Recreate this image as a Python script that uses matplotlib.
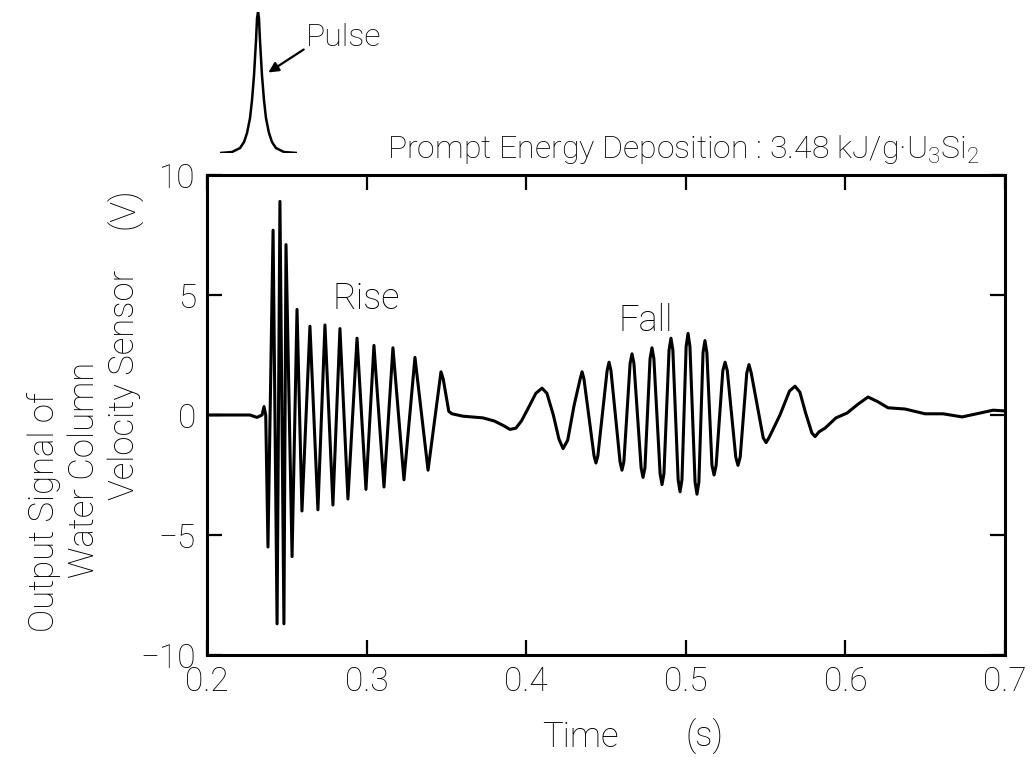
import matplotlib
matplotlib.use("Agg")
import matplotlib.pyplot as plt
from matplotlib.patches import FancyArrowPatch

# ---------------- data ----------------
time_s = [
    0.2000, 0.2269, 0.2313, 0.2345, 0.2357, 0.2368, 0.2382, 0.2414, 0.2439, 0.2457,
    0.2482, 0.2495, 0.2533, 0.2564, 0.2595, 0.2645, 0.2695, 0.2739, 0.2789, 0.2833,
    0.2883, 0.2940, 0.2996, 0.3046, 0.3109, 0.3165, 0.3234, 0.3303, 0.3385, 0.3466,
    0.3480, 0.3515, 0.3535,
    0.3604, 0.3729, 0.3800, 0.3860, 0.3898, 0.3935, 0.3970, 0.4010, 0.4060, 0.4099,
    0.4130, 0.4170, 0.4205, 0.4231, 0.4260, 0.4300, 0.4338, 0.4350, 0.4362,
    0.4425, 0.4437, 0.4449, 0.4507, 0.4519, 0.4531, 0.4588, 0.4600, 0.4612,
    0.4651, 0.4663, 0.4675, 0.4720, 0.4732, 0.4744, 0.4776, 0.4788, 0.4800,
    0.4839, 0.4851, 0.4863, 0.4895, 0.4907, 0.4919, 0.4952, 0.4964, 0.4976,
    0.5002, 0.5014, 0.5026, 0.5058, 0.5070, 0.5082, 0.5108, 0.5120, 0.5132,
    0.5164, 0.5177, 0.5190, 0.5232, 0.5246, 0.5260, 0.5313, 0.5327, 0.5341,
    0.5382, 0.5396, 0.5410, 0.5485, 0.5503, 0.5521, 0.5590, 0.5650, 0.5684,
    0.5715, 0.5750, 0.5790, 0.5810, 0.5835, 0.5872, 0.5941, 0.6010, 0.6079,
    0.6142, 0.6204, 0.6267, 0.6373, 0.6499, 0.6612, 0.6731, 0.6843, 0.6925,
    0.7000]
signal_v = [
    0.00, 0.00, -0.10, 0.00, 0.35, 0.00, -5.5, 7.7, -8.7, 8.9,
    -8.7, 7.1, -5.9, 4.4, -4.0, 3.7, -3.95, 3.75, -3.75, 3.6,
    -3.5, 3.2, -3.1, 2.9, -3.0, 2.8, -2.7, 2.4, -2.3, 1.8,
    1.5, 0.15, 0.05,
    -0.05, -0.12, -0.25, -0.45, -0.6, -0.55, -0.25, 0.25, 0.9, 1.12,
    0.9, 0.0, -1.0, -1.4, -1.05, 0.4, 1.5, 1.8, 1.5,
    -1.7, -2.0, -1.7, 1.85, 2.2, 1.85, -1.95, -2.3, -1.95,
    2.15, 2.55, 2.15, -2.2, -2.6, -2.2, 2.35, 2.8, 2.35,
    -2.45, -2.9, -2.45, 2.7, 3.2, 2.7, -2.7, -3.2, -2.7,
    2.85, 3.4, 2.85, -2.8, -3.3, -2.8, 2.6, 3.1, 2.6,
    -2.1, -2.5, -2.1, 1.85, 2.2, 1.85, -1.75, -2.1, -1.75,
    1.75, 2.1, 1.75, -0.95, -1.15, -0.95, 0.0, 1.0, 1.2,
    0.95, 0.1, -0.75, -0.9, -0.7, -0.55, -0.12, 0.08, 0.45,
    0.75, 0.55, 0.3, 0.25, 0.05, 0.05, -0.08, 0.08, 0.2,
    0.17]

# pulse sketch (relative units)
pulse_t = [0.000, 0.156, 0.260, 0.312, 0.351, 0.390, 0.416, 0.442, 0.468, 0.481,
           0.494, 0.506, 0.519, 0.545, 0.571, 0.597, 0.636, 0.675, 0.727, 0.831, 1.000]
pulse_v = [0.000, 0.007, 0.035, 0.078, 0.142, 0.248, 0.376, 0.553, 0.801, 0.957,
           1.000, 0.957, 0.801, 0.553, 0.376, 0.248, 0.142, 0.078, 0.035, 0.007, 0.000]

x_ticks = [0.2, 0.3, 0.4, 0.5, 0.6, 0.7]
x_ticklabels = ["0.2", "0.3", "0.4", "0.5", "0.6", "0.7"]
y_ticks = [-10, -5, 0, 5, 10]
y_ticklabels = ["\u221210", "\u22125", "0", "5", "10"]

# ---------------- figure ----------------
plt.rcParams['font.family'] = ['Roboto', 'DejaVu Sans']
plt.rcParams['font.weight'] = 'light'
plt.rcParams['mathtext.fontset'] = 'custom'
plt.rcParams['mathtext.rm'] = 'Roboto:light'
plt.rcParams['mathtext.it'] = 'Roboto:light'

W, H = 1032, 757
fig = plt.figure(figsize=(W / 100, H / 100), dpi=100)

def fx(px):
    return px / W

def fy(py):
    return 1 - py / H

ax = fig.add_axes([fx(207), fy(655), fx(1005) - fx(207), fy(175) - fy(655)])
ax.plot(time_s, signal_v, color='black', lw=2.2, solid_joinstyle='round')
ax.set_xlim(0.2, 0.7)
ax.set_ylim(-10, 10)
ax.set_xticks(x_ticks)
ax.set_xticklabels(x_ticklabels)
ax.set_yticks(y_ticks)
ax.set_yticklabels(y_ticklabels)
ax.tick_params(direction='in', length=11, width=1.6, top=True, right=True,
               labelsize=24, pad=8)
for s in ax.spines.values():
    s.set_linewidth(2.2)

ax.text(0.2996, 4.85, "Rise", fontsize=26, ha='center', va='center')
ax.text(0.4750, 3.9, "Fall", fontsize=26, ha='center', va='center')

fig.text(fx(580), fy(737), "Time", fontsize=25, ha='center', va='center')
fig.text(fx(705), fy(737), "(s)", fontsize=25, ha='center', va='center')

fig.text(fx(44), fy(512), "Output Signal of", fontsize=25, rotation=90,
         ha='center', va='center')
fig.text(fx(84), fy(470), "Water Column", fontsize=25, rotation=90,
         ha='center', va='center')
fig.text(fx(124), fy(385), "Velocity Sensor", fontsize=25, rotation=90,
         ha='center', va='center')
fig.text(fx(124), fy(208), "(V)", fontsize=25, rotation=90,
         ha='center', va='center')

fig.text(fx(387), fy(150), "Prompt Energy Deposition : 3.48 kJ/g\u00b7U$_3$Si$_2$",
         fontsize=23, ha='left', va='center')

# pulse inset
axp = fig.add_axes([fx(220), fy(153), fx(297) - fx(220), fy(12) - fy(153)])
axp.plot(pulse_t, pulse_v, color='black', lw=1.8, solid_joinstyle='round')
axp.set_xlim(0, 1)
axp.set_ylim(0, 1)
axp.axis('off')

fig.text(fx(306), fy(38), "Pulse", fontsize=23, ha='left', va='center')
fig.add_artist(FancyArrowPatch(
    (fx(306), fy(48)), (fx(266), fy(74)), transform=fig.transFigure,
    arrowstyle='-|>,head_length=6,head_width=3', color='black', lw=1.6))

fig.savefig("out.png", dpi=100)
